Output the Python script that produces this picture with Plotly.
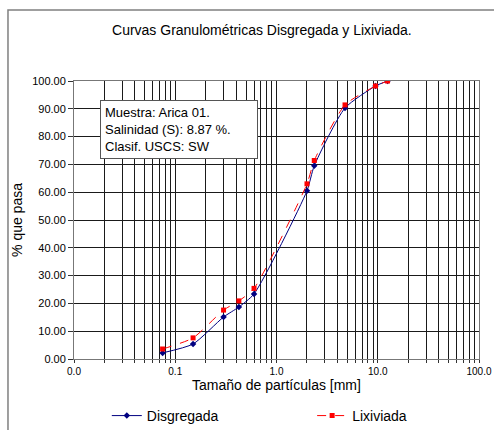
import plotly.graph_objects as go

# tamices (mm) y % que pasa
tamano = [0.075, 0.15, 0.3, 0.425, 0.6, 2.0, 2.36, 4.75, 9.5, 12.5]
disgregada = [2.2, 5.4, 15.1, 18.7, 23.4, 60.5, 69.5, 90.3, 98.2, 100.0]
lixiviada = [3.6, 7.6, 17.6, 20.9, 25.4, 63.0, 71.4, 91.4, 98.2, 100.0]

x_grid = [m * 10 ** e for e in range(-2, 2) for m in range(1, 10)] + [100]
x_labels = {0.01: "0.0", 0.1: "0.1", 1: "1.0", 10: "10.0", 100: "100.0"}
x_text = [x_labels.get(round(v, 6), "") for v in x_grid]
y_ticks = list(range(0, 101, 10))

FONT = "Liberation Sans, Arial, sans-serif"

fig = go.Figure()
fig.add_trace(go.Scatter(
    x=tamano, y=disgregada, name="Disgregada", legend="legend",
    mode="lines+markers",
    line=dict(color="#000080", width=1, shape="spline", smoothing=0.6),
    marker=dict(symbol="diamond", size=5, color="#000080"),
))
fig.add_trace(go.Scatter(
    x=tamano, y=lixiviada, name="Lixiviada", legend="legend2",
    mode="lines+markers",
    line=dict(color="#ff0000", width=1, dash="dash", shape="spline", smoothing=0.6),
    marker=dict(symbol="square", size=5, color="#ff0000"),
))

legend_style = dict(orientation="h", y=-0.205, xanchor="left", yanchor="middle",
                    font=dict(size=14), itemwidth=30, bgcolor="rgba(0,0,0,0)")

fig.update_layout(
    width=494, height=430,
    margin=dict(l=74, r=15, t=81, b=71, autoexpand=False),
    paper_bgcolor="white", plot_bgcolor="white",
    font=dict(family=FONT, color="black"),
    title=dict(text="Curvas Granulométricas Disgregada y Lixiviada.",
               x=0.53, xanchor="center", y=0.93, yanchor="middle",
               font=dict(size=14)),
    showlegend=True,
    legend=dict(x=0.081, **legend_style),
    legend2=dict(x=0.588, **legend_style),
)
fig.update_xaxes(
    type="log", range=[-2, 2], automargin=False,
    tickmode="array", tickvals=x_grid, ticktext=x_text,
    tickfont=dict(size=10), ticks="outside", ticklen=3, tickcolor="#333",
    showgrid=True, gridcolor="#1a1a1a", gridwidth=1,
    showline=True, linecolor="#777", mirror=True, zeroline=False,
    title=dict(text="Tamaño de partículas [mm]", font=dict(size=14), standoff=2),
)
fig.update_yaxes(
    range=[0, 100], automargin=False,
    tickmode="array", tickvals=y_ticks, tickformat=".2f",
    tickfont=dict(size=11), ticks="outside", ticklen=5, tickcolor="#333",
    showgrid=True, gridcolor="#1a1a1a", gridwidth=1,
    showline=True, linecolor="#777", mirror=True, zeroline=False,
    title=dict(text="% que pasa", font=dict(size=14), standoff=6),
)

# marco exterior del gráfico
fig.add_shape(type="rect", xref="paper", yref="paper",
              x0=-0.163, x1=1.2, y0=-0.5, y1=1.255,
              line=dict(color="#808080", width=1.5), fillcolor="rgba(0,0,0,0)",
              layer="below")

fig.add_annotation(
    xref="paper", yref="paper", x=0.064, y=0.932, xanchor="left", yanchor="top",
    text="Muestra: Arica 01.<br>Salinidad (S): 8.87 %.<br>Clasif. USCS: SW",
    align="left", width=148, showarrow=False, font=dict(size=13),
    bgcolor="white", bordercolor="#555", borderwidth=1, borderpad=4,
)

# sin margen del body para que la figura ocupe la ventana
fig.write_html("out.html", config={"displayModeBar": False},
               post_script="document.body.style.margin='0';document.body.style.overflow='hidden';")
